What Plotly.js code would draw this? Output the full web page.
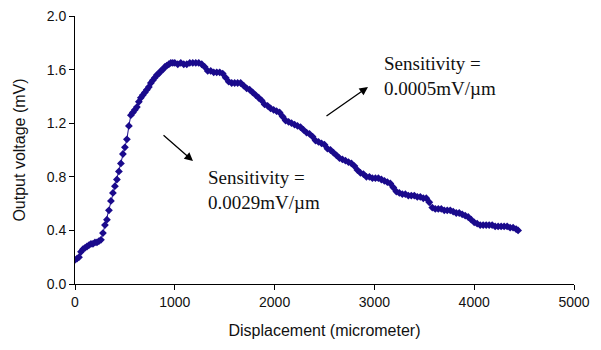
<!DOCTYPE html>
<html>
<head>
<meta charset="utf-8">
<script src="https://cdn.plot.ly/plotly-3.0.1.min.js"></script>
<style>html,body{margin:0;padding:0;background:#fff}#chart{width:601px;height:350px}</style>
</head>
<body>
<div id="chart"></div>
<script>
// Displacement (micrometer)
const displacement = [
  0,20,40,60,80,100,120,140,160,180,200,220,240,260,280,
  300,320,340,360,380,400,420,440,460,480,500,520,540,560,580,600,620,
  640,660,680,700,720,740,760,780,800,820,840,860,880,900,920,940,960,980,1000,
  1030,1060,1090,1120,1150,1180,1210,1240,1270,1300,1330,1360,1390,1420,1450,1480,
  1510,1540,1570,1600,1630,1660,1690,1720,1750,1780,1810,1840,1870,1900,1930,1960,
  1990,2020,2050,2080,2110,2140,2170,2200,2230,2260,2290,2320,2350,2380,2410,2440,
  2470,2500,2530,2560,2590,2620,2650,2680,2710,2740,2770,2800,2830,2860,2890,2920,
  2950,2980,3010,3040,3070,3100,3130,3160,3190,3220,3250,3280,3310,3340,3370,3400,
  3430,3460,3490,3520,3550,3580,3610,3640,3670,3700,3730,3760,3790,3820,3850,3880,
  3910,3940,3970,4000,4030,4060,4090,4120,4150,4180,4210,4240,4270,4300,4330,4360,
  4390,4420,4440
];
// Output voltage (mV)
const voltage = [
  0.18,0.19,0.20,0.24,0.26,0.27,0.28,0.29,0.30,0.30,0.31,0.31,0.32,0.33,0.38,
  0.44,0.48,0.55,0.62,0.68,0.73,0.78,0.84,0.90,0.97,1.02,1.08,1.18,1.26,1.28,1.30,1.32,
  1.36,1.39,1.41,1.43,1.45,1.47,1.50,1.52,1.54,1.56,1.57,1.59,1.60,1.62,1.63,1.64,1.65,1.65,1.65,
  1.64,1.65,1.64,1.64,1.65,1.65,1.65,1.65,1.64,1.62,1.59,1.59,1.58,1.58,1.58,1.57,
  1.54,1.51,1.50,1.50,1.50,1.50,1.48,1.46,1.45,1.43,1.41,1.39,1.37,1.34,1.33,1.31,
  1.30,1.29,1.28,1.25,1.22,1.21,1.20,1.19,1.18,1.17,1.15,1.13,1.12,1.10,1.07,1.06,
  1.05,1.04,1.01,1.00,0.98,0.96,0.94,0.93,0.92,0.91,0.90,0.88,0.85,0.83,0.82,0.80,
  0.80,0.79,0.79,0.79,0.78,0.77,0.76,0.75,0.72,0.69,0.68,0.67,0.67,0.66,0.66,0.66,
  0.65,0.65,0.64,0.64,0.61,0.57,0.56,0.56,0.56,0.55,0.55,0.55,0.54,0.53,0.53,0.52,
  0.51,0.50,0.48,0.46,0.45,0.44,0.44,0.44,0.44,0.44,0.43,0.43,0.43,0.43,0.43,0.42,
  0.42,0.41,0.40
];
const xTicks = [0,1000,2000,3000,4000,5000];
const yTicks = [0,0.4,0.8,1.2,1.6,2.0];
const yTickText = ["0.0","0.4","0.8","1.2","1.6","2.0"];
const note1 = "Sensitivity =<br>0.0029mV/\u00b5m";
const note2 = "Sensitivity =<br>0.0005mV/\u00b5m";

const serif = {family:"Liberation Serif, Times New Roman, serif", size:19, color:"#111"};
const data = [{
  x: displacement, y: voltage, type:"scatter", mode:"lines+markers",
  line:{color:"#1a0a8c", width:1},
  marker:{symbol:"diamond", size:6, color:"#1a0a8c"},
  hoverinfo:"skip"
}];
const layout = {
  width:601, height:350,
  margin:{l:75, r:27, t:16, b:66},
  paper_bgcolor:"#fff", plot_bgcolor:"#fff",
  showlegend:false,
  font:{family:"Liberation Sans, Arial, sans-serif", size:14, color:"#111"},
  xaxis:{
    range:[0,5000], tickvals:xTicks, ticktext:xTicks.map(String),
    showgrid:false, zeroline:false, showline:true, linecolor:"#000", linewidth:1,
    ticks:"outside", ticklen:5, tickcolor:"#000",
    title:{text:"Displacement (micrometer)", font:{size:16}, standoff:16}
  },
  yaxis:{
    range:[0,2], tickvals:yTicks, ticktext:yTickText,
    showgrid:false, zeroline:false, showline:true, linecolor:"#000", linewidth:1,
    ticks:"outside", ticklen:5, tickcolor:"#000",
    title:{text:"Output voltage (mV)", font:{size:16}, standoff:17}
  },
  annotations:[
    {x:1310, y:0.70, xref:"x", yref:"y", text:note1, showarrow:false, xanchor:"left", yanchor:"middle", align:"left", font:serif},
    {x:3075, y:1.55, xref:"x", yref:"y", text:note2, showarrow:false, xanchor:"left", yanchor:"middle", align:"left", font:serif},
    {x:1182, y:0.918, ax:872, ay:1.119, xref:"x", yref:"y", axref:"x", ayref:"y", text:"", showarrow:true, arrowhead:2, arrowsize:1.3, arrowwidth:1.3, arrowcolor:"#000", standoff:0},
    {x:2936, y:1.47, ax:2505, ay:1.246, xref:"x", yref:"y", axref:"x", ayref:"y", text:"", showarrow:true, arrowhead:2, arrowsize:1.3, arrowwidth:1.3, arrowcolor:"#000", standoff:0}
  ]
};
Plotly.newPlot("chart", data, layout, {staticPlot:true, displayModeBar:false});
</script>
</body>
</html>
